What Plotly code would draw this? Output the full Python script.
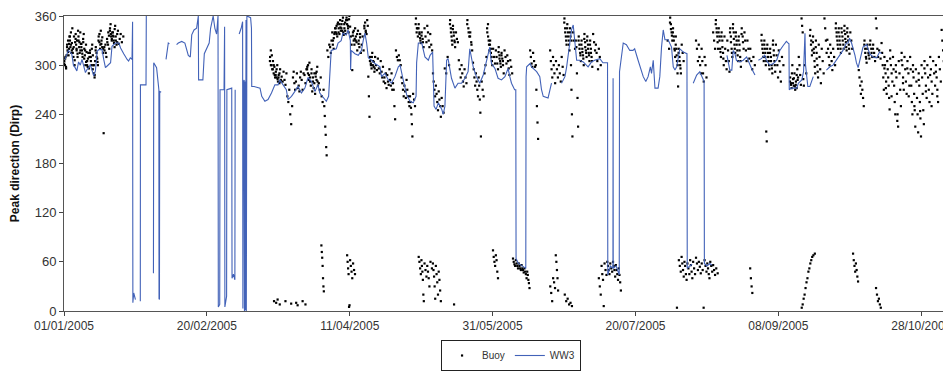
import pandas as pd
import plotly.graph_objects as go

BASE = pd.Timestamp("2005-01-01")

# ---- WW3 model peak direction: (day offset from 01/01/2005, degrees); None = gap ----
ww3_day = [
    0.35, 1.5, 2.7, 3.3, 3.9, 4.5, 5.1, 5.7, 6.3, 6.9, 7.5, 8.1, 8.7, 9.2, 9.8, 10.4, 11.0, 11.6, 12.2, 13.3,
    13.9, 14.5, 15.1, 16.3, 16.8, 18.0, 19.2, 19.8, 20.9, 21.5, 22.1, 22.6, 23.2, 23.8, 24.0,
    24.1, 24.4, 24.7, 25.0, 25.5, 26.7, 26.75, 28.7, 28.8, 30.0, 31.3, 31.4, 32.4, 33.2, 33.25, 33.4, 33.5, 34.0, 35.0,
    35.7, 36.5, 36.9, 38.0, 39.4, 40.0, 41.2, 42.3, 43.5, 44.2, 44.7, 45.5, 46.4, 47.0, 47.1, 48.6, 49.1, 49.7,
    50.8, 51.3, 52.2, 52.8, 53.4, 53.9, 54.0, 54.5, 54.6, 56.0, 56.2, 56.3, 56.9, 57.0, 58.7, 58.8, 59.3, 59.8, 59.9,
    60.5, 61.3, 62.0, 62.5, 62.6, 62.8, 62.9, 63.05, 63.15, 63.3, 63.35, 63.5, 63.7, 63.8, 64.0, 65.3, 65.6, 65.7,
    66.5, 68.6, 69.2, 70.3, 71.4, 72.6, 73.8, 74.9, 75.5, 76.7, 77.8, 78.4, 79.6, 80.8, 81.9, 83.1, 84.3, 85.4,
    86.6, 87.8, 88.9, 89.5, 90.7, 91.8, 92.6, 93.3, 93.5, 95.3, 95.9, 97.0, 97.6, 98.8, 99.4, 100.2, 100.3, 100.5,
    101.8, 103.0, 104.1, 104.7, 105.3, 105.9, 106.5, 107.6, 108.8, 110.6, 111.1, 112.3, 113.5, 114.6, 115.8, 117.0,
    117.6, 118.7, 119.9, 121.1, 122.2, 123.2, 123.4, 124.0, 125.2, 126.3, 127.5, 128.1, 129.0, 129.5, 130.2, 131.0,
    132.2, 132.7, 133.3, 133.9, 134.4, 135.6, 136.8, 137.9, 139.1, 140.3, 141.4, 142.0, 143.2, 144.3, 145.5, 146.7,
    147.9, 149.0, 149.6, 150.8, 151.9, 153.1, 154.3, 155.4, 156.0, 156.6, 157.7, 158.1, 158.2, 159.0, 160.0, 161.0,
    161.6, 161.7, 161.9, 163.1, 163.6, 165.4, 166.5, 167.1, 167.7, 169.4, 170.0, 170.6, 172.0, 174.1, 175.3, 175.9,
    177.0, 177.6, 178.2, 178.8, 179.4, 180.5, 181.7, 182.8, 183.4, 184.6, 185.7, 187.5, 188.6, 190.2, 190.3, 191.2,
    192.1, 192.15, 192.2, 193.2, 194.3, 194.4, 195.7, 196.8, 198.0, 199.1, 199.7, 200.9, 202.7, 203.6, 204.4, 205.2,
    205.6, 206.2, 206.8, 207.9, 208.5, 209.1, 209.7, 210.3, 211.4, 212.6, 213.2, 213.8, 214.4, 215.0, 215.5, 216.1,
    216.7, 218.0, 218.1, 219.0, 219.8, 220.0, 220.2, 221.4, 222.5, 223.7, 224.0, 224.1, 225.0, 226.0, 226.8, 229.0,
    232.0, 233.0, 233.7, 234.2, 234.8, 235.3, 236.5, 237.7, 238.9, 240.0, 240.6, 241.8, 242.4, 243.0, 244.0, 245.2,
    245.8, 247.0, 248.2, 249.4, 250.5, 251.7, 252.8, 253.4, 253.7, 253.8, 254.5, 256.4, 257.0, 258.2, 258.8, 259.3,
    259.5, 260.3, 261.0, 262.2, 264.0, 266.8, 268.0, 269.1, 270.3, 271.5, 272.6, 273.8, 274.4, 274.9, 275.6, 276.8,
    277.3, 277.9, 279.0, 279.6, 280.9, 281.9, 283.1, 284.4, 285.4, 286.1,
]
ww3_dir = [
    307, 318, 314, 300, 297, 293, 304, 300, 307, 300, 291, 295, 297, 301, 293, 287, 293, 317, 319, 319,
    307, 297, 299, 303, 323, 327, 327, 321, 314, 310, 307, 305, 309, 307, 353,
    10, 22, 18, 14, None, 12, 276, 276, 360, None, 46, 303, 297, 270, 15, 14, 268, 267, None,
    307, 327, 326, None, 325, 327, 329, 327, 312, 310, 337, 343, 345, 360, 282, 282, 314, 318,
    327, 345, 360, 345, 338, 360, 5, 8, 270, 270, 347, 5, 18, 270, 272, 40, 45, 38, 270,
    None, 338, 345, 353, 3, 280, 2, 282, 0, 150, 280, 1, 355, 0, 360, 358, 345, 274,
    274, 272, 262, 256, 258, 266, 276, 276, 282, 276, 270, 258, 262, 268, 274, 266, 272, 285,
    280, 268, 276, 266, 260, 256, 262, 310, 318, 320, 327, 330, 339, 337, 343, 330, 294, 318,
    314, 312, 318, 330, 339, 327, 309, 306, 302, 298, 286, 290, 282, 278, 286, 298,
    300, 282, 264, 256, 254, 262, 303, 327, 327, 310, 306, 312, 316, 250, 246, 254,
    246, 240, 250, 306, 308, 284, 272, 278, 278, 284, 292, 320, 298, 286, 278, 288,
    308, 322, 302, 296, 284, 282, 286, 296, 286, 278, 270, 270, 64, 58, 56, 54,
    52, 286, 298, 302, 298, 292, 286, 270, 262, 260, 268, 278, None, 278, 286, 298,
    327, 343, 349, 330, 306, 306, 304, 300, 298, 304, 306, 308, 303, 303, 44, 55,
    52, 284, 52, 55, 44, 292, 327, 325, 318, 318, 320, 306, 286, 280, 286, 298,
    290, 306, 272, 272, 286, 322, 343, 331, 331, 322, 298, 294, 298, 310, 320, 318,
    316, 314, 52, 55, 57, None, 278, 288, 292, 282, 280, 58, 55, 58, 56, None,
    312, 294, 294, 318, 314, 306, 304, 306, 310, 300, 296, 288, None, 306, 308, 312,
    306, 300, 302, 306, 318, 324, 329, 327, 326, 270, 272, 272, 278, 282, 292, 339,
    300, 274, 274, 286, None, 294, 298, 300, 306, 312, 318, 327, 327, 333, 327, 312,
    303, 297, 316, 322, 325, 314, 310, 309, 316, 314,
]

# ---- Buoy observations: day offset and the directions read for that day ----
buoy_upper_days = [
    0, 1, 2, 3, 4, 5, 6, 7, 8, 9, 10, 11, 12, 13, 14, 15, 16, 17, 18, 19, 20,
    72, 73, 74, 75, 76, 77, 78, 79, 80, 81, 82, 83, 84, 85, 86, 87, 88, 89, 90, 91, 92, 93, 94, 95, 96, 97, 98, 99, 100,
    101, 102, 103, 104, 105, 106, 107, 108, 109, 110, 111, 112, 113, 114, 115, 116, 117, 118, 119, 120, 121, 122,
    123, 124, 125, 126, 127, 128, 129, 130, 131, 132, 133, 134, 135, 136, 137, 138, 139, 140, 141, 142, 143, 144,
    145, 146, 147, 148, 149, 150, 151, 152, 153, 154, 155, 156, 163, 164, 165, 170, 171, 172, 173, 174, 175, 176,
    177, 178, 179, 180, 181, 182, 183, 184, 185, 186, 187,
    211, 212, 213, 214, 215, 216, 221, 222, 223, 224, 227, 228, 229, 230, 231, 232, 233, 234, 235, 236, 237, 238,
    239, 240, 241, 244, 245, 246, 247, 248, 249, 250, 251,
    254, 255, 256, 257, 258, 259, 261, 262, 263, 264, 265, 266, 267, 268, 269, 270, 271, 272, 273, 274, 275, 278,
    279, 280, 281, 282, 283, 284, 285, 286, 287, 288, 289, 290, 291, 292, 293, 294, 295, 296, 297, 298, 299, 300,
    301, 302, 303, 304, 305, 306, 307, 308, 309,
]
buoy_upper_vals = [
    [305, 300, 310, 298, 312], [325, 318, 330, 312, 320, 335], [330, 322, 340, 315, 327, 345], [320, 310, 335, 300, 328],
    [338, 325, 318, 330, 310, 342], [330, 322, 315, 340, 326], [326, 318, 310, 332, 338], [320, 312, 300, 325, 316],
    [305, 298, 315, 290, 310], [318, 310, 300, 325], [312, 300, 290, 285, 305], [322, 315, 308, 300],
    [335, 328, 320, 342], [330, 322, 315, 217], [318, 325, 310], [328, 340, 320], [345, 350, 335, 330, 340],
    [340, 335, 327, 322, 348], [330, 325, 338, 342], [326, 332, 338], [328, 335],
    [310, 318, 300, 295], [305, 290, 298, 285], [292, 285, 300, 280], [288, 278, 295, 282], [286, 280, 292],
    [282, 276, 290], [262, 255, 270], [240, 228, 250], [285, 292, 278, 270], [280, 290, 272], [275, 268, 285, 292],
    [282, 270, 290], [288, 278, 295], [298, 290, 282, 303], [285, 275, 295, 268], [280, 272, 290, 265],
    [290, 282, 298, 275], [278, 270, 285], [262, 255, 270], [250, 238, 225, 215, 200, 190], [318, 310, 325],
    [322, 315, 330, 340], [330, 320, 338, 345], [340, 348, 335, 352], [345, 338, 355, 342], [350, 342, 358, 337],
    [345, 352, 338, 358], [355, 348, 340, 360], [347, 335, 325, 294],
    [340, 330, 325, 345], [335, 328, 318, 342], [330, 322, 338, 315], [325, 335, 318], [345, 352, 340, 338],
    [355, 348, 286, 262, 237], [310, 302, 296, 315], [305, 298, 292, 310], [300, 294, 308], [296, 290, 305],
    [292, 285, 298, 280], [285, 278, 290, 272], [288, 280, 276, 295], [282, 275, 290, 270], [278, 270, 250, 234],
    [318, 310, 306], [312, 306, 300], [285, 278, 270, 262], [275, 268, 260, 282], [270, 262, 255, 250],
    [262, 255, 248, 240, 228, 213], [265, 258, 250],
    [357, 345, 335], [350, 340, 333, 327], [340, 332, 322], [345, 335, 328], [348, 340, 330, 322], [338, 325, 318],
    [290, 280, 270, 262], [275, 265, 255, 245], [268, 258, 250, 237], [260, 250, 242], [296, 290], [310, 300],
    [355, 345, 335, 325], [348, 340, 330, 322], [340, 332, 328], [306, 295, 285], [300, 290, 280, 274],
    [295, 285, 278], [355, 345, 335], [340, 328, 318], [303, 295, 285, 275], [290, 280, 270, 262],
    [285, 275, 258, 242, 213], [280, 270, 262], [290, 300, 310], [340, 350, 330, 318], [330, 320, 310, 300],
    [320, 310, 302], [318, 310, 302, 295], [322, 312, 305, 298], [315, 308, 300, 290], [318, 310, 302],
    [312, 305, 296, 288], [306, 298, 290], [318, 310, 302, 298], [315, 305, 298], [300, 270, 250, 230, 210],
    [318, 305, 295, 285], [310, 300, 290, 278], [305, 295, 285], [300, 290, 280], [310, 298, 288],
    [357, 345, 335, 325], [350, 340, 330, 318],
    [345, 335, 300, 270, 240, 213], [340, 330, 320], [330, 322, 290, 260, 225], [335, 325, 315, 305],
    [330, 320, 312, 300], [338, 328, 318, 310], [335, 325, 315, 305], [330, 320, 310, 298], [338, 328, 318],
    [325, 315, 305, 295], [320, 310, 300],
    [330, 320], [358, 350, 340, 330], [345, 335, 320, 310], [335, 320, 305, 290, 274], [320, 310, 300, 290],
    [325, 315, 305], [330, 320, 305], [325, 310, 300, 290], [320, 305, 290, 280], [310, 300, 285],
    [340, 330, 320], [355, 345, 335, 320], [345, 335, 320, 310], [340, 330, 315, 300], [335, 320, 305, 295],
    [330, 318, 305, 292], [345, 335, 320, 310], [350, 340, 325, 315], [340, 330, 318, 305], [335, 325, 310, 298],
    [345, 335, 320], [340, 330, 318, 305],
    [330, 320, 308], [320, 305, 295], [310, 300], [337, 325, 315, 305], [330, 320, 310, 300, 219, 207],
    [325, 315, 305, 295], [320, 310, 300, 290], [330, 318, 305, 292], [325, 312, 300, 285], [318, 305, 292, 280],
    [310, 300],
    [285, 278, 272, 300], [283, 275, 290, 270], [280, 272, 295, 285], [310, 300, 288, 276],
    [357, 348, 340, 283, 275], [300, 290], [343, 330, 318], [335, 320, 305, 290], [330, 315, 300, 285],
    [325, 310, 295, 278], [320, 305, 290], [357, 345, 330, 315], [331, 320, 310, 300], [325, 315, 305, 294],
    [320, 310, 300], [351, 340, 330, 320], [345, 335, 325, 315], [340, 330, 320], [348, 338, 328, 318],
    [345, 335, 325, 314], [340, 330, 320], [294, 285, 275, 265],
    [280, 270, 260, 250], [330, 320, 310, 303], [325, 315, 308], [330, 320, 310], [325, 315, 305],
    [357, 345, 320, 310], [318, 308], [327, 315, 300, 285, 270], [310, 300, 290, 280, 265],
    [305, 295, 285, 275, 260, 246], [318, 300, 290, 280], [310, 295, 275, 255, 240], [300, 285, 265, 240, 225],
    [305, 290, 270, 250], [315, 300, 285, 270], [310, 295, 280, 265], [305, 290, 275],
    [310, 295, 275, 255, 240], [300, 285, 265, 245, 225], [295, 280, 260, 240, 218], [290, 275, 255, 235, 213],
    [300, 285, 265, 245, 228],
    [305, 290, 275, 260], [300, 285, 270, 255], [310, 295, 280, 265], [305, 290, 275], [300, 285, 270, 255],
    [310, 295, 280], [343, 330, 318, 305], [338, 325, 310, 298], [330, 318, 305, 291],
]

# additional readings in the densest clusters
buoy_dense_days = [
    0, 1, 2, 3, 4, 5, 6, 7, 8, 9, 10, 11, 12, 13, 14, 15, 16, 17, 18,
    72, 73, 74, 75, 85, 86, 87, 88, 94, 95, 96, 97, 98, 99, 101, 102, 103, 105, 107, 108,
    123, 124, 125, 135, 136, 141, 142, 148, 149, 152, 153, 175, 176, 177, 180, 181, 182, 183, 184,
    212, 213, 214, 215, 228, 229, 230, 233, 234, 235, 236, 237, 244, 245, 246, 247, 248,
    254, 255, 256, 261, 262, 263, 270, 271, 272, 273, 274, 280, 281, 282, 283,
    287, 289, 291, 293, 295, 297, 299, 301, 303, 305,
]
buoy_dense_vals = [
    [302, 308, 296], [322, 316, 326], [335, 325, 318], [315, 322, 306], [332, 320, 314], [335, 328, 318],
    [322, 314, 328], [308, 318, 304], [300, 308, 296], [315, 305, 320], [295, 300, 288], [318, 310, 304],
    [330, 338, 325], [326, 334, 320], [322, 315], [332, 325, 336], [342, 338, 332], [336, 330, 344], [335, 328],
    [305, 300, 312], [295, 300, 288], [288, 295, 283], [285, 290, 280], [295, 300, 288], [280, 290], [285, 278],
    [286, 292, 280], [325, 333, 340], [345, 338, 350], [340, 350, 346], [345, 354, 340], [350, 342, 355],
    [350, 345, 356], [336, 342, 332], [330, 338], [326, 334], [348, 342], [305, 300, 310], [300, 304, 296],
    [350, 340, 345], [345, 338, 330], [336, 328], [350, 340, 330], [344, 336, 328], [350, 340], [335, 325],
    [345, 335, 325], [325, 315, 305], [316, 308, 302], [312, 305], [352, 340, 330], [345, 335, 325], [340, 330],
    [330, 320, 312], [325, 316, 308], [332, 322, 315], [330, 320, 312], [325, 315, 305],
    [352, 344, 336], [340, 330, 318], [325, 312, 300], [315, 305, 296], [350, 340, 328], [340, 330, 316],
    [335, 322, 308], [340, 328, 315], [345, 332, 320], [335, 325, 312], [330, 318, 305], [338, 328],
    [330, 320, 310], [325, 315, 305], [320, 310, 300], [315, 305, 296], [325, 312, 300],
    [280, 276, 290], [278, 284, 274], [276, 288, 282], [336, 325, 312], [328, 315, 298], [322, 308, 292],
    [345, 335, 325], [340, 330, 320], [345, 335, 325], [342, 332, 322], [340, 330, 320], [325, 315, 308],
    [320, 312], [325, 315], [320, 310],
    [296, 272], [308, 262], [292, 232], [306, 278], [296, 262], [292, 250], [282, 244], [296, 268], [288, 250],
    [292, 262],
]

buoy_low_days = [
    73, 74, 75, 77, 79, 81, 83, 84, 90, 99, 100, 101, 124, 125, 126, 127, 128, 129, 130, 131, 136,
    150, 151, 157, 158, 159, 160, 161, 162, 170, 171, 172, 175, 176, 177, 187, 188, 189, 190, 191, 192, 193, 194,
    214, 215, 216, 217, 218, 219, 220, 221, 222, 223, 224, 225, 226, 227, 228, 240,
    258, 259, 260, 261, 262, 276, 277, 284, 285,
]
buoy_low_vals = [
    [12], [10, 14], [8], [12], [9], [10, 7], [12], [8], [80, 72, 65, 55, 40, 30, 24], [68, 60, 52, 45, 5, 7],
    [62, 55, 48, 40], [58, 50, 45], [66, 60, 52, 45], [62, 55, 48, 38, 20, 12], [58, 50, 42], [55, 48, 40, 30],
    [60, 52], [58, 50, 42, 30, 15], [55, 45, 35, 20], [48, 38, 25, 12], [8],
    [74, 66, 60, 55], [68, 62, 48, 40], [64, 60, 57, 55], [62, 58, 55, 52], [58, 55, 52, 50], [56, 52, 50, 47],
    [52, 48, 45, 40], [48, 44, 38, 34, 28], [30, 22, 12], [40, 35, 28], [68, 60, 50, 40, 25], [20, 12],
    [15, 8], [10, 6], [40, 30, 20], [55, 45, 38, 6], [58, 50, 44], [60, 55, 50, 45], [58, 52, 48],
    [60, 55, 50, 42], [56, 50, 45, 38], [52, 44, 35, 25],
    [4], [62, 55, 48], [66, 58, 50, 42], [60, 55, 45, 38], [58, 52, 45], [62, 56, 48, 40], [60, 52, 45],
    [65, 58, 50], [60, 54, 46], [58, 50, 4], [62, 55, 48], [58, 52, 45, 40], [60, 55, 48], [56, 50, 44],
    [52, 46], [52, 40, 30, 22],
    [4, 8, 15], [20, 28, 35], [40, 48, 52], [58, 62, 66], [68, 70], [70, 62, 55, 48], [58, 50, 42, 36],
    [28, 20, 12], [15, 8, 4],
]

tick_days = [0, 50, 100, 150, 200, 250, 300]
tick_text = ["01/01/2005", "20/02/2005", "11/04/2005", "31/05/2005", "20/07/2005", "08/09/2005", "28/10/2005"]
y_ticks = [0, 60, 120, 180, 240, 300, 360]


def to_date(d):
    return BASE + pd.to_timedelta(d, unit="D")


# expand buoy per-day lists into individual observation times within that day
bx, by = [], []
groups = ((buoy_upper_days, buoy_upper_vals, 0.5), (buoy_dense_days, buoy_dense_vals, 0.2),
          (buoy_low_days, buoy_low_vals, 0.5))
for days, vals, off in groups:
    for d, vs in zip(days, vals):
        n = len(vs)
        for i, v in enumerate(vs):
            bx.append(to_date(d + (i + off) / n))
            by.append(v)

wx = [to_date(d) for d in ww3_day]

fig = go.Figure()
fig.add_trace(go.Scatter(
    x=bx, y=by, mode="markers", name="Buoy",
    marker=dict(color="black", size=2.2, symbol="square", line=dict(width=0)),
))
fig.add_trace(go.Scatter(
    x=wx, y=ww3_dir, mode="lines", name="WW3", connectgaps=False,
    line=dict(color="#4262b8", width=1.1),
))

font_family = "Liberation Sans, Arial, sans-serif"
# the page body keeps an 8 px default margin, so the figure is 8 px smaller than the window
fig.update_layout(
    width=943, height=363,
    margin=dict(l=56, r=0, t=8, b=58),
    paper_bgcolor="white", plot_bgcolor="white",
    font=dict(family=font_family, size=13, color="#333333"),
    showlegend=True,
    legend=dict(
        orientation="h", x=0.504, xanchor="center", y=-0.1, yanchor="top",
        bordercolor="#222222", borderwidth=1, font=dict(size=10, color="#333333"),
        itemwidth=30, tracegroupgap=0,
    ),
    xaxis=dict(
        range=[to_date(0), to_date(310.4)],
        tickvals=[to_date(d) for d in tick_days], ticktext=tick_text,
        ticks="outside", ticklen=4, tickcolor="#444444",
        showline=True, linecolor="#555555", linewidth=1, mirror=True,
        showgrid=False, zeroline=False, ticklabeloverflow="allow",
        tickfont=dict(size=12, color="#333333"),
    ),
    yaxis=dict(
        range=[0, 360], tickvals=y_ticks,
        ticks="outside", ticklen=4, tickcolor="#444444",
        showline=True, linecolor="#555555", linewidth=1,
        showgrid=False, zeroline=False,
        tickfont=dict(size=13, color="#333333"),
        title=dict(text="<b>Peak direction (Dirp)</b>", font=dict(size=12, color="#111111"), standoff=14),
    ),
)

fig.write_html("out.html")
